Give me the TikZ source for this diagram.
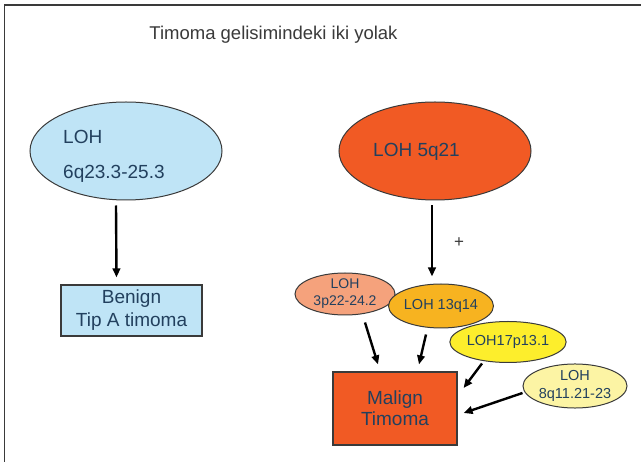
\documentclass[tikz,border=0pt]{standalone}
\usepackage{fontspec}
\setmainfont{Liberation Sans}
\usetikzlibrary{shapes.geometric,arrows.meta,calc}
\definecolor{lblue}{HTML}{BFE4F6}
\definecolor{redor}{HTML}{F15A24}
\definecolor{salmonc}{HTML}{F5A27C}
\definecolor{orng}{HTML}{F7B320}
\definecolor{yel}{HTML}{FDEE2C}
\definecolor{lyel}{HTML}{FCF4A4}
\definecolor{txt}{HTML}{22405E}
\definecolor{edgec}{HTML}{3A3A3A}
\begin{document}
\begin{tikzpicture}[x=1pt,y=-1pt,
  blob/.style={ellipse, draw=edgec, line width=1pt, inner sep=0pt, text=txt, align=center},
  bigtxt/.style={font=\fontsize{19}{23}\selectfont},
  smalltxt/.style={font=\fontsize{14.5}{17}\selectfont},
  boxn/.style={rectangle, draw=edgec, line width=1.2pt, inner sep=0pt, align=center, text=txt},
  lbl/.style={inner sep=0pt, text=txt, anchor=base west, bigtxt},
  arr/.style={line width=2.4pt, -{Triangle[length=9pt,width=7.5pt]}}]
\useasboundingbox (0,0) rectangle (641,462);
\fill[white] (0,0) rectangle (641,462);
\draw[edgec, line width=1.5pt] (4.5,462) -- (4.5,5) -- (641,5);

\node[text=edgec, font=\fontsize{18.5}{22}\selectfont, inner sep=0pt] (title) at (273.5,35) {Timoma gelisimindeki iki yolak};

% left pathway
\node[blob, fill=lblue, minimum width=192pt, minimum height=98pt] (le) at (126,151) {};
\node[lbl] (leA) at (63,144) {LOH};
\node[lbl] (leB) at (63,179) {6q23.3-25.3};
\node[boxn, fill=lblue, minimum width=141pt, minimum height=51pt, bigtxt] (benign) at (131.5,310.5) {Benign\\Tip A timoma};

% right pathway
\node[blob, fill=redor, minimum width=192pt, minimum height=98pt] (re) at (435,151) {};
\node[lbl] (reA) at (373,157) {LOH 5q21};
\node[text=edgec, font=\fontsize{17}{19}\selectfont, inner sep=0pt] (plus) at (459,243) {+};

\node[blob, fill=salmonc, minimum width=100pt, minimum height=42pt, font=\fontsize{14}{17}\selectfont] (s3p) at (345,294) {LOH\\3p22-24.2};
\node[blob, fill=orng, minimum width=104pt, minimum height=44pt, smalltxt] (o13) at (441,306) {LOH 13q14};
\node[blob, fill=yel, minimum width=90pt, minimum height=41pt, smalltxt] (y17) at (508,342) {LOH17p13.1};
\node[blob, fill=lyel, minimum width=104pt, minimum height=42pt, font=\fontsize{14.5}{18}\selectfont] (l8q) at (575,386) {LOH\\8q11.21-23};

\node[boxn, fill=redor, minimum width=124pt, minimum height=73pt, font=\fontsize{19}{21}\selectfont] (malign) at (395,408.5) {Malign\\Timoma};

% connectors
\draw[arr] ($(le.south)+(-10,5)$) -- ($(benign.north)+(-15,-7)$);
\draw[arr] ($(re.south)+(-3,5)$) -- ($(o13.north)+(-9,-7)$);
\draw[arr] ($(s3p.south)+(20,7)$) -- ($(malign.north)+(-17,-7)$);
\draw[arr] ($(o13.south)+(-15,6)$) -- ($(malign.north)+(24,-7)$);
\draw[arr] ($(y17.south)+(-26,0.5)$) -- ($(malign.east)+(6,-20.5)$);
\draw[arr] ($(l8q.west)+(0,7)$) -- ($(malign.east)+(6,4.5)$);
\end{tikzpicture}
\end{document}
